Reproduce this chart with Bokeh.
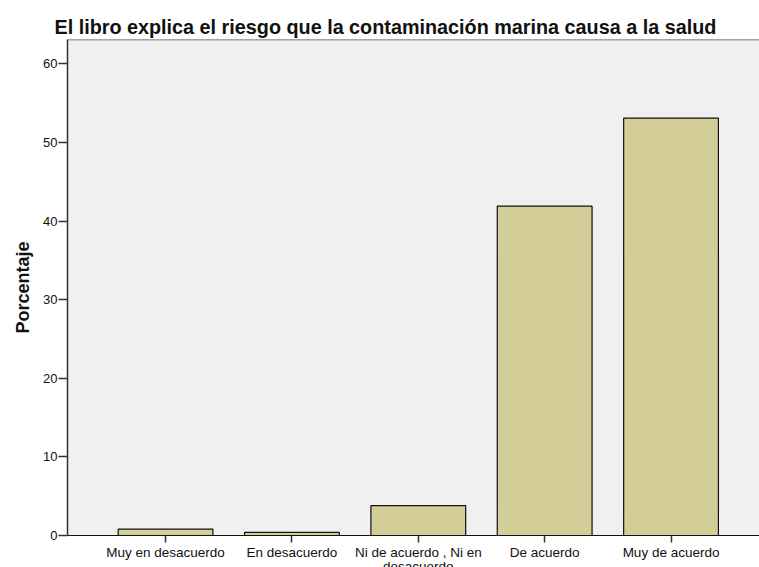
from bokeh.plotting import figure
from bokeh.models import Range1d, FixedTicker, Span
from bokeh.embed import file_html
from bokeh.resources import INLINE

categories = ["Muy en desacuerdo", "En desacuerdo", "Ni de acuerdo , Ni en\ndesacuerdo",
              "De acuerdo", "Muy de acuerdo"]
percent = [0.8, 0.4, 3.8, 41.9, 53.1]
y_ticks = [0, 10, 20, 30, 40, 50, 60]
title_text = "El libro explica el riesgo que la contaminación marina causa a la salud"
y_label = "Porcentaje"

idx = list(range(len(categories)))
Y_END = 63.1

p = figure(width=759, height=576, output_backend="svg", toolbar_location=None,
           x_range=Range1d(-0.776, 4.7), y_range=Range1d(0, Y_END),
           min_border_left=67, min_border_right=0, min_border_top=39, min_border_bottom=0)

p.vbar(x=idx, top=percent, width=0.75, bottom=0,
       fill_color="#D3CE98", line_color="#111111", line_width=1.2)

p.title.text = title_text
p.title.text_font = "Liberation Sans"
p.title.text_font_size = "19.8px"
p.title.text_font_style = "bold"
p.title.text_color = "#111111"
p.title.align = "left"
p.title.offset = -13
p.title.standoff = 4

p.background_fill_color = "#F0F0F0"
p.border_fill_color = "white"
p.outline_line_color = None
p.grid.visible = False

top_line = Span(location=Y_END, dimension="width", line_color="#555555", line_width=1.5)
p.add_layout(top_line)

xa = p.xaxis[0]
xa.ticker = FixedTicker(ticks=idx)
xa.major_label_overrides = {i: c for i, c in zip(idx, categories)}
xa.major_label_text_font = "Liberation Sans"
xa.major_label_text_font_size = "13.5px"
xa.major_label_text_line_height = 0.96
xa.major_label_text_color = "#111111"
xa.major_tick_out = 7
xa.major_tick_in = 0
xa.minor_tick_out = 0
xa.minor_tick_in = 0
xa.major_label_standoff = 2
xa.axis_line_color = "#111111"
xa.axis_line_width = 1.2
xa.major_tick_line_color = "#333333"
xa.major_tick_line_width = 1.5

ya = p.yaxis[0]
ya.ticker = FixedTicker(ticks=y_ticks)
ya.axis_label = y_label
ya.axis_label_text_font = "Liberation Sans"
ya.axis_label_text_font_size = "18px"
ya.axis_label_text_font_style = "bold"
ya.axis_label_text_color = "#111111"
ya.axis_label_standoff = 7
ya.major_label_text_font = "Liberation Sans"
ya.major_label_text_font_size = "13px"
ya.major_label_text_color = "#111111"
ya.major_tick_out = 9
ya.major_tick_in = 0
ya.minor_tick_out = 0
ya.minor_tick_in = 0
ya.major_label_standoff = 1
ya.axis_line_color = "#333333"
ya.axis_line_width = 1.5
ya.major_tick_line_color = "#333333"
ya.major_tick_line_width = 1.5

open("out.html", "w").write(file_html(p, INLINE))
